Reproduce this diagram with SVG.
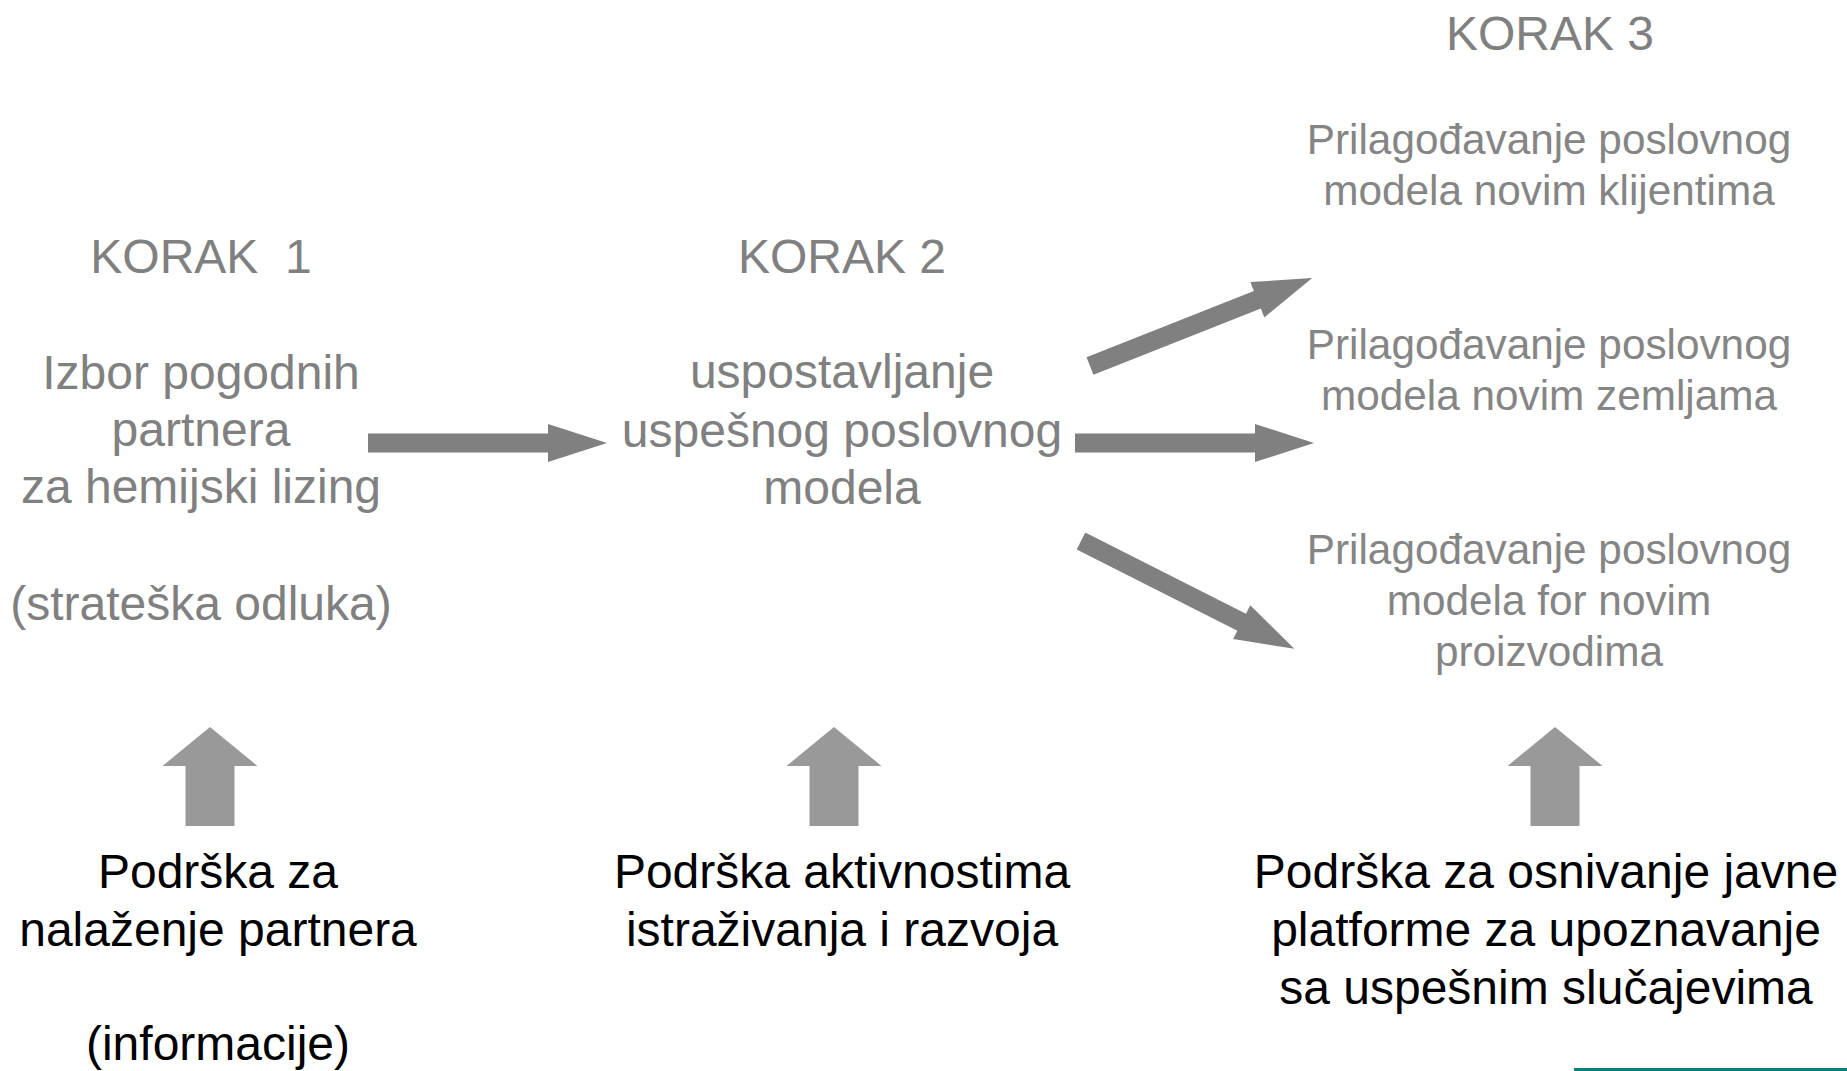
<svg xmlns="http://www.w3.org/2000/svg" width="1847" height="1071" viewBox="0 0 1847 1071">
  <style>
    text { font-family: "Liberation Sans", Arial, sans-serif; text-anchor: middle; }
    .step { font-size: 48px; fill: #808080; }
    .sub { font-size: 42.3px; fill: #858585; }
    .sup { font-size: 48px; fill: #000000; }
    .flow { fill: #808080; }
    .up { fill: #999999; }
  </style>
  <defs>
    <!-- block arrow pointing right, tail at origin, length 239 -->
    <path id="blockArrow" d="M0,-9.5 H180 V-19 L239,0 L180,19 V9.5 H0 Z"/>
    <!-- block arrow pointing up, tip at origin -->
    <path id="upArrow" d="M0,0 L47.5,39 H24.5 V99 H-24.5 V39 H-47.5 Z"/>
  </defs>

  <rect width="1847" height="1071" fill="#ffffff"/>

  <g id="step1">
    <text class="step" x="201" y="273" xml:space="preserve">KORAK  1</text>
    <text class="step" x="201" y="389">Izbor pogodnih</text>
    <text class="step" x="201" y="446">partnera</text>
    <text class="step" x="201" y="503">za hemijski lizing</text>
    <text class="step" x="201" y="620">(strateška odluka)</text>
  </g>

  <g id="step2">
    <text class="step" x="842" y="273">KORAK 2</text>
    <text class="step" x="842" y="388">uspostavljanje</text>
    <text class="step" x="842" y="447">uspešnog poslovnog</text>
    <text class="step" x="842" y="504">modela</text>
  </g>

  <g id="step3">
    <text class="step" x="1550" y="50">KORAK 3</text>
  </g>

  <g id="step3-clients">
    <text class="sub" x="1549" y="154">Prilagođavanje poslovnog</text>
    <text class="sub" x="1549" y="205">modela novim klijentima</text>
  </g>

  <g id="step3-countries">
    <text class="sub" x="1549" y="359">Prilagođavanje poslovnog</text>
    <text class="sub" x="1549" y="410">modela novim zemljama</text>
  </g>

  <g id="step3-products">
    <text class="sub" x="1549" y="564">Prilagođavanje poslovnog</text>
    <text class="sub" x="1549" y="615">modela for novim</text>
    <text class="sub" x="1549" y="666">proizvodima</text>
  </g>

  <g id="support1">
    <text class="sup" x="218" y="888">Podrška za</text>
    <text class="sup" x="218" y="946">nalaženje partnera</text>
    <text class="sup" x="218" y="1060">(informacije)</text>
  </g>

  <g id="support2">
    <text class="sup" x="842" y="888">Podrška aktivnostima</text>
    <text class="sup" x="842" y="946">istraživanja i razvoja</text>
  </g>

  <g id="support3">
    <text class="sup" x="1546" y="888">Podrška za osnivanje javne</text>
    <text class="sup" x="1546" y="946">platforme za upoznavanje</text>
    <text class="sup" x="1546" y="1004">sa uspešnim slučajevima</text>
  </g>

  <g id="connectors">
    <use href="#blockArrow" class="flow" transform="translate(368,443)"/>
    <use href="#blockArrow" class="flow" transform="translate(1075,443)"/>
    <use href="#blockArrow" class="flow" transform="translate(1090,366) rotate(-21.6)"/>
    <use href="#blockArrow" class="flow" transform="translate(1081,541) rotate(26.8)"/>
    <use href="#upArrow" class="up" transform="translate(210,727)"/>
    <use href="#upArrow" class="up" transform="translate(834,727)"/>
    <use href="#upArrow" class="up" transform="translate(1555,727)"/>
  </g>

  <rect x="1574" y="1068" width="273" height="3" fill="#0a8078"/>
</svg>
